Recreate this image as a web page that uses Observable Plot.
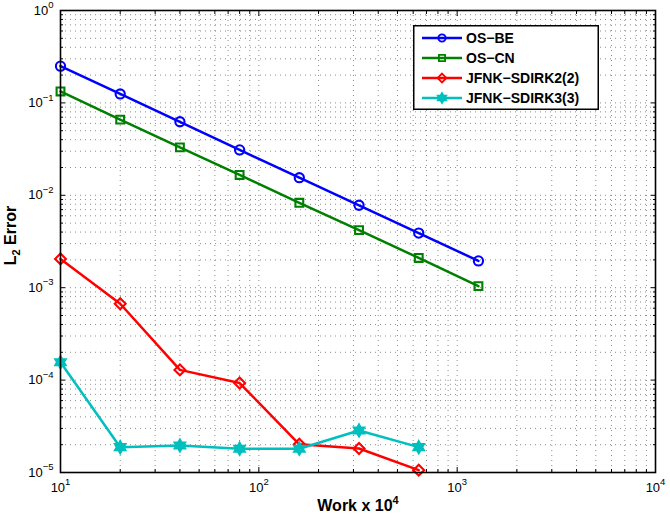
<!DOCTYPE html>
<html><head><meta charset="utf-8">
<script src="https://cdn.jsdelivr.net/npm/d3@7"></script>
<script src="https://cdn.jsdelivr.net/npm/@observablehq/plot@0.6"></script>
<style>
body{margin:0;background:#fff;font-family:"Liberation Sans",Arial,sans-serif;}
#wrap{position:relative;width:670px;height:523px;}
#legend{position:absolute;left:413px;top:25px;}
</style></head>
<body><div id="wrap"></div>
<script>
// ---- data ----
const work = [10, 20, 40, 80, 160, 320, 640, 1280];
const osBE = [0.25, 0.125, 0.0625, 0.031, 0.0155, 0.0078, 0.0039, 0.00195];
const osCN = [0.133, 0.066, 0.033, 0.0166, 0.0083, 0.0042, 0.0021, 0.00104];
const sdirk2 = [2.05e-3, 6.7e-4, 1.29e-4, 9.3e-5, 2.02e-5, 1.82e-5, 1.06e-5];
const sdirk3 = [1.56e-4, 1.88e-5, 1.96e-5, 1.81e-5, 1.81e-5, 2.85e-5, 1.88e-5];
const seriesNames = ["OS−BE", "OS−CN", "JFNK−SDIRK2(2)", "JFNK−SDIRK3(3)"];
const seriesColors = ["#0000ff", "#008000", "#ff0000", "#00bfbf"];
const xMajor = [10, 100, 1000, 10000];
const yMajor = [1e-5, 1e-4, 1e-3, 1e-2, 1e-1, 1];
const xLabel = "Work x 10^4";
const yLabel = "L_2 Error";

const minorOf = (major) => {
  const out = [];
  for (let i = 0; i < major.length - 1; i++) for (let m = 2; m <= 9; m++) out.push(major[i] * m);
  return out;
};
const xMinor = minorOf(xMajor);
const yMinor = minorOf(yMajor);

// custom hexagram symbol
const hexagram = {
  draw(ctx, size) {
    const R = Math.sqrt(size / Math.PI) * 1.25, r = R / Math.sqrt(3);
    for (let i = 0; i < 12; i++) {
      const a = -Math.PI / 2 + i * Math.PI / 6, rr = i % 2 ? r : R;
      const px = rr * Math.cos(a), py = rr * Math.sin(a);
      i ? ctx.lineTo(px, py) : ctx.moveTo(px, py);
    }
    ctx.closePath();
  }
};
const symbols = ["circle", "square", "diamond2", hexagram];
const radii = [4.6, 4.4, 4.9, 4.8];
const fills = ["none", "none", "none", seriesColors[3]];

const allSeries = [osBE, osCN, sdirk2, sdirk3].map((vals, s) =>
  vals.map((v, i) => ({work: work[i], err: v, s})));

const expFmt = d => "10^" + String(Math.round(Math.log10(d))).replace("-", "−");
const blank = () => "";
const gridStyle = {stroke: "#000", strokeOpacity: 0.5, strokeDasharray: "1,4", strokeWidth: 0.9};

const marks = [
  Plot.gridX([...xMajor, ...xMinor], gridStyle),
  Plot.gridY([...yMajor, ...yMinor], gridStyle),
  Plot.axisX(xMajor, {anchor: "bottom", tickSize: 0, tickPadding: 10, tickFormat: expFmt, label: null, fontSize: 13}),
  Plot.axisY(yMajor, {anchor: "left", tickSize: 0, tickPadding: 7, tickFormat: expFmt, label: null, fontSize: 13}),
  ...["bottom", "top"].flatMap(a => [
    Plot.axisX(xMajor, {anchor: a, tickSize: -5, tickFormat: blank, label: null}),
    Plot.axisX(xMinor, {anchor: a, tickSize: -3, tickFormat: blank, label: null})
  ]),
  ...["left", "right"].flatMap(a => [
    Plot.axisY(yMajor, {anchor: a, tickSize: -5, tickFormat: blank, label: null}),
    Plot.axisY(yMinor, {anchor: a, tickSize: -3, tickFormat: blank, label: null})
  ]),
  ...allSeries.flatMap((d, s) => [
    Plot.line(d, {x: "work", y: "err", stroke: seriesColors[s], strokeWidth: 2.5}),
    Plot.dot(d, {x: "work", y: "err", symbol: symbols[s], r: radii[s], stroke: seriesColors[s], strokeWidth: 2.1, fill: fills[s]})
  ]),
  Plot.frame({stroke: "#000", strokeWidth: 1.6}),
  Plot.text([xLabel], {text: d => d, frameAnchor: "bottom", dy: 38, fontWeight: "bold", fontSize: 16}),
  Plot.text([yLabel], {text: d => d, frameAnchor: "left", textAnchor: "middle", dx: -50, dy: -6, rotate: -90, fontWeight: "bold", fontSize: 16})
];

const chart = Plot.plot({
  width: 670, height: 523,
  marginLeft: 60, marginRight: 15, marginTop: 10, marginBottom: 51,
  x: {type: "log", domain: [10, 1e4]},
  y: {type: "log", domain: [1e-5, 1]},
  style: {fontFamily: "'Liberation Sans', Arial, sans-serif", fontSize: "13px", color: "#000", background: "#fff"},
  marks
});

// superscript / subscript rendering for texts like 10^−1 and L_2
const NS = "http://www.w3.org/2000/svg";
chart.querySelectorAll("text").forEach(t => {
  const s = t.textContent;
  if (!/[\^_]/.test(s)) return;
  const parts = s.split(/([\^_]−?\d+)/).filter(p => p !== "");
  while (t.firstChild) t.removeChild(t.firstChild);
  let shift = 0;
  const small = t.getAttribute("font-weight") === "bold" || (t.parentNode && t.parentNode.getAttribute("font-weight") === "bold") ? 11 : 9.5;
  parts.forEach(p => {
    const ts = document.createElementNS(NS, "tspan");
    if (p[0] === "^" || p[0] === "_") {
      const target = p[0] === "^" ? -6.5 : 4;
      ts.setAttribute("dy", target - shift);
      shift = target;
      ts.setAttribute("font-size", small);
      ts.textContent = p.slice(1);
    } else {
      if (shift) ts.setAttribute("dy", -shift);
      shift = 0;
      ts.textContent = p;
    }
    t.appendChild(ts);
  });
});

const wrap = document.getElementById("wrap");
wrap.appendChild(chart);

// legend (overlay)
const lw = 186, lh = 85;
const leg = d3.select(wrap).append("svg").attr("id", "legend").attr("width", lw).attr("height", lh);
leg.append("rect").attr("x", 0.75).attr("y", 0.75).attr("width", lw - 1.5).attr("height", lh - 1.5)
  .attr("fill", "#fff").attr("stroke", "#000").attr("stroke-width", 1.5);
const symTypes = [d3.symbolCircle, d3.symbolSquare, d3.symbolDiamond2, hexagram];
seriesNames.forEach((name, i) => {
  const g = leg.append("g").attr("transform", `translate(0,${13 + i * 20})`);
  g.append("line").attr("x1", 9).attr("x2", 49).attr("stroke", seriesColors[i]).attr("stroke-width", 2.5);
  g.append("path").attr("transform", "translate(29,0)")
    .attr("d", d3.symbol(symTypes[i], Math.PI * (radii[i] - 0.9) ** 2)())
    .attr("fill", fills[i] === "none" ? "none" : seriesColors[i]).attr("stroke", seriesColors[i]).attr("stroke-width", 1.8);
  g.append("text").attr("x", 53).attr("dy", "0.35em").attr("font-weight", "bold").attr("font-size", 14)
    .attr("font-family", "'Liberation Sans', Arial, sans-serif").text(name);
});
</script>
</body></html>
